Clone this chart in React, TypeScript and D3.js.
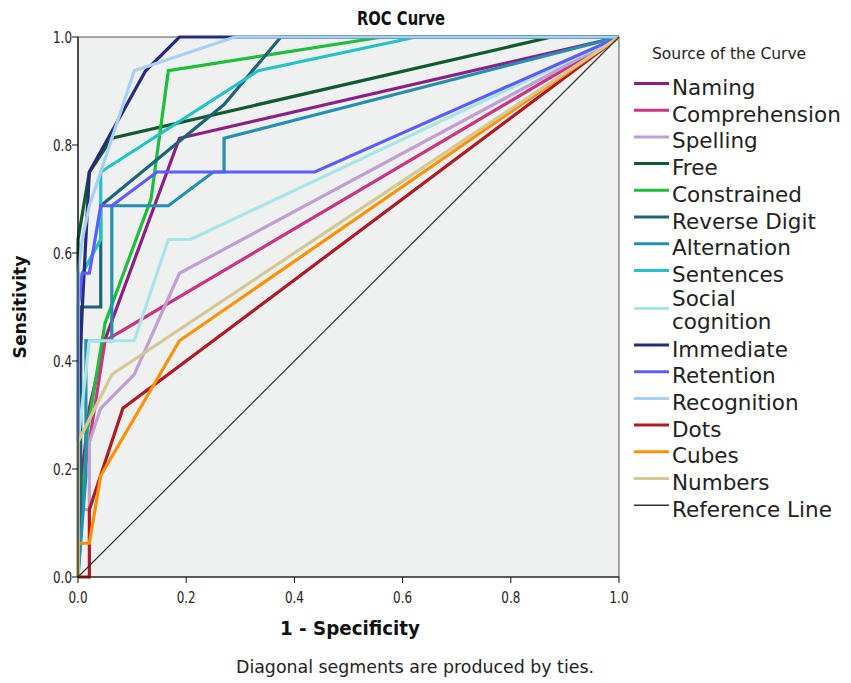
import React from "react";
import * as d3 from "d3";

type Pt = [number, number];

// ROC coordinates: [1 - specificity, sensitivity]
const naming: Pt[] = [[0, 0], [0, 0.125], [0.021, 0.3125], [0.05, 0.44], [0.1875, 0.8125], [1, 1]];
const comprehension: Pt[] = [[0, 0], [0, 0.125], [0.021, 0.25], [0.05, 0.4375], [1, 1]];
const spelling: Pt[] = [[0, 0], [0, 0.125], [0.021, 0.125], [0.021, 0.25], [0.042, 0.3125], [0.104, 0.375], [0.1875, 0.5625], [1, 1]];
const free: Pt[] = [[0, 0], [0, 0.625], [0.021, 0.75], [0.0625, 0.8125], [0.875, 1], [1, 1]];
const constrained: Pt[] = [[0, 0], [0.008, 0.125], [0.017, 0.27], [0.05, 0.47], [0.135, 0.7], [0.167, 0.9375], [0.5625, 1], [1, 1]];
const reverseDigit: Pt[] = [[0, 0], [0.005, 0.125], [0.005, 0.5], [0.042, 0.5], [0.042, 0.6875], [0.27, 0.875], [0.375, 1], [1, 1]];
const alternation: Pt[] = [[0, 0], [0.0146, 0.1875], [0.0146, 0.4375], [0.0625, 0.4375], [0.0625, 0.6875], [0.167, 0.6875], [0.25, 0.75], [0.27, 0.75], [0.27, 0.8125], [1, 1]];
const sentences: Pt[] = [[0, 0], [0, 0.5], [0.008, 0.5625], [0.042, 0.625], [0.042, 0.75], [0.333, 0.9375], [0.625, 1], [1, 1]];
const socialCognition: Pt[] = [[0, 0], [0, 0.25], [0.021, 0.4375], [0.104, 0.4375], [0.167, 0.625], [0.208, 0.625], [1, 1]];
const immediate: Pt[] = [[0, 0], [0, 0.3125], [0.008, 0.5], [0.021, 0.75], [0.125, 0.9375], [0.1875, 1], [1, 1]];
const retention: Pt[] = [[0, 0], [0, 0.5], [0.008, 0.5625], [0.021, 0.5625], [0.042, 0.6875], [0.0625, 0.6875], [0.146, 0.75], [0.4375, 0.75], [1, 1]];
const recognition: Pt[] = [[0, 0], [0, 0.5625], [0.008, 0.625], [0.021, 0.6875], [0.042, 0.75], [0.104, 0.9375], [0.29, 1], [1, 1]];
const dots: Pt[] = [[0, 0], [0.021, 0], [0.021, 0.125], [0.083, 0.3125], [1, 1]];
const cubes: Pt[] = [[0, 0], [0, 0.0625], [0.021, 0.0625], [0.042, 0.1875], [0.1875, 0.4375], [1, 1]];
const numbers: Pt[] = [[0, 0], [0, 0.25], [0.0625, 0.375], [1, 1]];
const referenceLine: Pt[] = [[0, 0], [1, 1]];

const seriesNames = [
  "Naming", "Comprehension", "Spelling", "Free", "Constrained", "Reverse Digit",
  "Alternation", "Sentences", "Social cognition", "Immediate", "Retention",
  "Recognition", "Dots", "Cubes", "Numbers",
];
const seriesData: Pt[][] = [
  naming, comprehension, spelling, free, constrained, reverseDigit,
  alternation, sentences, socialCognition, immediate, retention,
  recognition, dots, cubes, numbers,
];
const seriesColors = [
  "#8c1f86", "#cc3380", "#c09fd6", "#0f5a2e", "#1dbf3a", "#1d6478",
  "#2390b0", "#20c3c6", "#a6e5e8", "#262b7a", "#5d5cff",
  "#a8d0f2", "#b01a24", "#ff9000", "#d3c993",
];

const ticks = [0, 0.2, 0.4, 0.6, 0.8, 1.0];

const W = 851;
const H = 683;
const left = 78, right = 619, top = 37, bottom = 577;

const sans = "'DejaVu Sans', 'Liberation Sans', sans-serif";

export default function App() {
  const x = d3.scaleLinear().domain([0, 1]).range([left, right]);
  const y = d3.scaleLinear().domain([0, 1]).range([bottom, top]);
  const line = d3.line<Pt>().x((d) => x(d[0])).y((d) => y(d[1]));

  // legend row positions (swatch centre y)
  const legendRows: { name: string; color: string; y: number; lines: string[] }[] = [];
  let ly = 83.5;
  seriesNames.forEach((name, i) => {
    if (name === "Social cognition") {
      legendRows.push({ name, color: seriesColors[i], y: ly + 11.4, lines: ["Social", "cognition"] });
      ly += 47.9;
    } else {
      legendRows.push({ name, color: seriesColors[i], y: ly, lines: [name] });
      ly += 26.7;
    }
  });
  legendRows.push({ name: "Reference Line", color: "#333333", y: ly, lines: ["Reference Line"] });

  return (
    <svg
      width={W}
      height={H}
      style={{ position: "absolute", left: 0, top: 0, background: "#ffffff" }}
    >
      <text x={401} y={25} textAnchor="middle" fontFamily={sans} fontWeight="bold" fontSize={20}
        fill="#111" textLength={88} lengthAdjust="spacingAndGlyphs">
        ROC Curve
      </text>

      <rect x={left} y={top} width={right - left} height={bottom - top} fill="#eff0f0" stroke="#555" strokeWidth={1} />

      {seriesData.map((d, i) => (
        <path
          key={seriesNames[i]}
          d={line(d) ?? ""}
          fill="none"
          stroke={seriesColors[i]}
          strokeWidth={3.2}
          strokeLinejoin="miter"
        />
      ))}
      <path d={line(referenceLine) ?? ""} fill="none" stroke="#333" strokeWidth={1.2} />

      {/* axes */}
      <line x1={left} x2={left} y1={top} y2={bottom} stroke="#111" strokeWidth={1.2} />
      <line x1={left} x2={right} y1={bottom} y2={bottom} stroke="#111" strokeWidth={1.2} />
      {ticks.map((t) => (
        <g key={"y" + t}>
          <line x1={left - 6} x2={left} y1={y(t)} y2={y(t)} stroke="#111" />
          <text x={left - 6} y={y(t) + 5.5} textAnchor="end" fontFamily={sans} fontSize={15}
            fill="#222" textLength={19} lengthAdjust="spacingAndGlyphs">
            {t.toFixed(1)}
          </text>
        </g>
      ))}
      {ticks.map((t) => (
        <g key={"x" + t}>
          <line x1={x(t)} x2={x(t)} y1={bottom} y2={bottom + 6} stroke="#111" />
          <text x={x(t)} y={bottom + 26} textAnchor="middle" fontFamily={sans} fontSize={15}
            fill="#222" textLength={19} lengthAdjust="spacingAndGlyphs">
            {t.toFixed(1)}
          </text>
        </g>
      ))}

      <text x={350} y={635} textAnchor="middle" fontFamily={sans} fontWeight="bold" fontSize={20}
        fill="#111" textLength={140} lengthAdjust="spacingAndGlyphs">
        1 - Specificity
      </text>
      <text
        transform={`translate(26,307) rotate(-90)`}
        textAnchor="middle"
        fontFamily={sans}
        fontWeight="bold"
        fontSize={18}
        fill="#111"
        textLength={103}
        lengthAdjust="spacingAndGlyphs"
      >
        Sensitivity
      </text>
      <text x={415} y={673} textAnchor="middle" fontFamily={sans} fontSize={17} fill="#222"
        textLength={358} lengthAdjust="spacingAndGlyphs">
        Diagonal segments are produced by ties.
      </text>

      {/* legend */}
      <text x={652} y={59} fontFamily={sans} fontSize={15.5} fill="#222">
        Source of the Curve
      </text>
      {legendRows.map((r) => (
        <g key={r.name}>
          <line
            x1={634}
            x2={669}
            y1={r.y}
            y2={r.y}
            stroke={r.color}
            strokeWidth={r.name === "Reference Line" ? 1.5 : 3}
          />
          {r.lines.length === 1 ? (
            <text x={672} y={r.y + 11.5} fontFamily={sans} fontSize={21.5} fill="#222">
              {r.lines[0]}
            </text>
          ) : (
            <text fontFamily={sans} fontSize={21.5} fill="#222">
              <tspan x={672} y={r.y - 3}>{r.lines[0]}</tspan>
              <tspan x={672} y={r.y + 20}>{r.lines[1]}</tspan>
            </text>
          )}
        </g>
      ))}
    </svg>
  );
}
